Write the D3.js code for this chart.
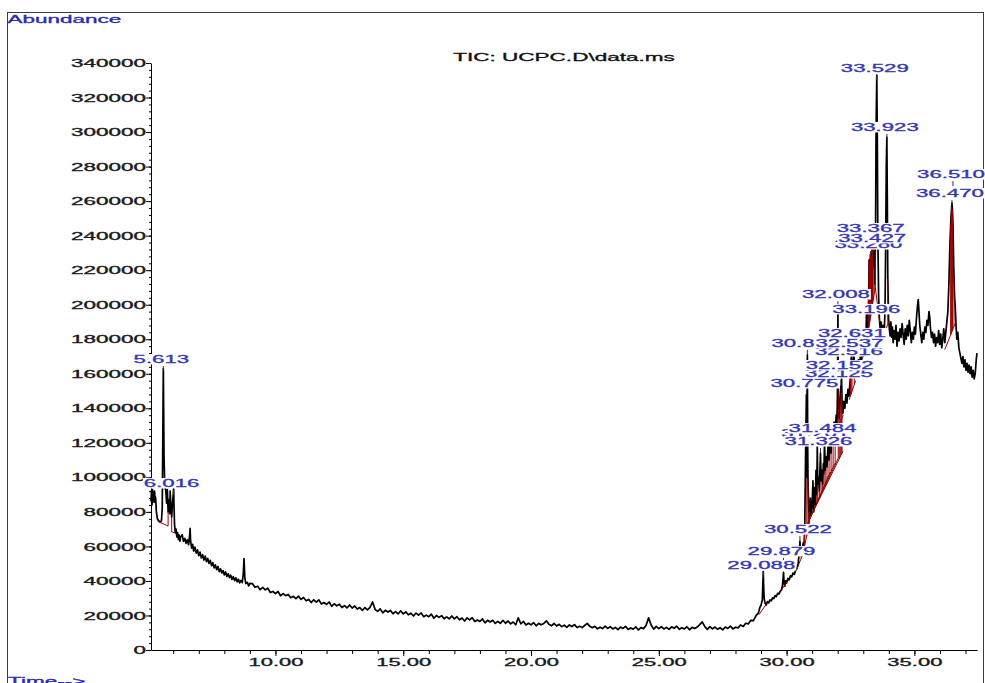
<!DOCTYPE html>
<html>
<head>
<meta charset="utf-8">
<script src="https://cdn.jsdelivr.net/npm/d3@7"></script>
<style>
html, body { margin: 0; padding: 0; background: #fff; }
svg { display: block; }
</style>
</head>
<body>
<svg id="chart" width="985" height="683"></svg>
<script>
// Total ion chromatogram: [retention time (min), abundance]
const tic = [
  [5.13,86000],[5.15,92500],[5.17,84000],[5.19,93000],[5.21,87000],[5.23,91500],[5.25,85500],[5.27,92000],[5.29,86000],[5.31,88500],
  [5.34,80000],[5.38,76000],[5.42,75000],[5.46,74500],[5.50,74000],[5.54,75000],[5.57,82000],[5.59,118000],[5.605,150000],[5.613,163000],
  [5.625,140000],[5.64,112000],[5.66,100000],[5.68,94000],[5.71,92000],[5.74,85000],[5.77,93000],[5.80,80000],[5.83,87000],[5.86,79000],
  [5.88,92000],[5.91,82000],[5.94,77000],[5.97,85000],[6.00,90000],[6.016,93500],[6.03,84000],[6.05,73000],[6.08,68000],[6.11,70000],
  [6.14,65500],[6.17,68000],[6.20,64000],[6.23,66500],[6.26,63000],[6.29,65500],
  [6.35,66800],[6.40,62900],[6.45,64700],[6.50,61800],[6.55,63900],[6.60,61000],[6.64,66000],[6.66,70500],[6.68,63000],[6.72,59000],
  [6.76,61200],[6.80,57300],[6.85,59600],[6.90,56100],[6.95,58000],[7.00,54600],[7.05,56700],[7.10,53300],[7.15,55200],[7.20,52100],
  [7.25,54400],[7.30,51200],[7.35,53000],[7.40,50100],[7.45,51900],[7.50,48800],[7.55,50600],[7.60,47600],[7.65,49300],[7.70,46500],
  [7.75,48400],[7.80,45400],[7.85,47000],[7.90,44600],[7.95,46000],[8.00,43500],[8.05,45200],[8.10,42600],[8.15,44100],[8.20,41900],
  [8.25,43300],[8.30,40900],[8.35,42500],[8.40,40200],[8.45,41800],[8.50,39500],[8.55,41000],[8.60,38900],[8.65,40300],[8.70,39000],
  [8.74,44000],[8.77,53000],[8.80,42000],[8.84,38500],[8.90,39200],[8.95,37100],[9.00,38600],
  [9.1,38400],[9.2,36300],[9.3,36900],[9.4,34900],[9.5,36300],[9.6,34800],[9.7,35800],[9.8,33300],[9.9,33900],[10.0,32700],
  [10.1,33900],[10.2,31400],[10.3,32700],[10.4,31500],[10.5,32200],[10.6,30200],[10.7,31100],[10.8,29700],[10.9,31200],[11.0,29300],
  [11.1,30400],[11.2,28500],[11.3,29300],[11.4,27500],[11.5,29100],[11.6,27700],[11.7,29000],[11.8,26600],[11.9,27500],[12.0,26400],
  [12.1,27800],[12.2,25300],[12.3,26800],[12.4,25600],[12.5,26500],[12.6,24600],[12.7,25700],[12.8,24400],[12.9,26100],[13.0,24300],
  [13.1,25500],[13.2,23700],[13.3,24600],[13.4,22900],[13.5,24600],[13.6,23300],[13.7,24700],[13.8,27800],[13.9,23400],[14.0,22400],
  [14.1,23800],[14.2,21500],[14.3,23000],[14.4,22000],[14.5,22900],[14.6,21000],[14.7,22200],[14.8,20900],[14.9,22700],[15.0,20900],
  [15.1,22100],[15.2,20400],[15.3,21300],[15.4,19700],[15.5,21400],[15.6,20200],[15.7,21500],[15.8,19300],[15.9,20200],[16.0,19300],
  [16.1,20800],[16.2,18400],[16.3,20000],[16.4,18900],[16.5,19900],[16.6,18100],[16.7,19200],[16.8,18000],[16.9,19700],[17.0,18000],
  [17.1,19300],[17.2,17500],[17.3,18500],[17.4,16800],[17.5,18600],[17.6,17400],[17.7,18700],[17.8,16500],[17.9,17400],[18.0,16500],
  [18.1,18000],[18.2,15700],[18.3,17200],[18.4,16200],[18.5,17200],[18.6,15400],[18.7,16600],[18.8,15400],[18.9,17200],[19.0,15500],
  [19.1,16800],[19.2,15100],[19.3,16200],[19.4,14600],[19.5,18600],[19.6,15200],[19.7,16600],[19.8,14500],[19.9,15500],[20.0,14600],
  [20.1,15900],[20.2,14000],[20.3,15400],[20.4,14600],[20.5,15400],[20.6,16900],[20.7,14900],[20.8,14000],[20.9,15400],[21.0,13900],
  [21.1,14900],[21.2,13500],[21.3,14400],[21.4,13100],[21.5,14500],[21.6,13600],[21.7,14700],[21.8,13000],[21.9,13800],[22.0,13000],
  [22.1,14200],[22.2,15400],[22.3,13700],[22.4,12900],[22.5,13700],[22.6,12300],[22.7,13200],[22.8,12400],[22.9,13800],[23.0,12500],
  [23.1,13500],[23.2,12200],[23.3,13100],[23.4,11800],[23.5,13300],[23.6,12500],[23.7,13700],[23.8,11900],[23.9,12800],[24.0,12100],
  [24.1,13400],[24.2,11600],[24.3,13000],[24.4,12400],[24.5,14200],[24.6,18600],[24.7,14500],[24.8,12100],[24.9,13700],[25.0,12400],
  [25.1,13500],[25.2,12200],[25.3,13100],[25.4,11900],[25.5,13400],[25.6,12600],[25.7,13800],[25.8,12000],[25.9,12900],[26.0,12200],
  [26.1,13500],[26.2,11700],[26.3,13100],[26.4,12400],[26.5,13300],[26.6,14700],[26.7,16300],[26.8,13500],[26.9,12000],[27.0,13500],
  [27.1,12200],[27.2,13300],[27.3,12000],[27.4,12900],[27.5,11700],[27.6,13300],[27.7,12500],[27.8,13800],[27.9,12200],[28.0,13200],
  [28.1,12800],[28.2,14500],[28.3,13600],[28.4,15500],[28.5,15100],[28.6,17200],[28.7,17000],[28.8,19800],[28.9,21500],
  [28.95,24500],[29.00,26000],[29.05,29000],[29.07,38000],[29.088,45500],[29.10,38000],[29.12,30000],[29.16,27000],[29.20,26000],[29.25,28000],
  [29.30,27300],[29.35,29000],[29.40,28500],[29.45,30200],[29.50,29800],[29.55,31500],[29.60,31000],[29.65,32800],[29.70,32400],[29.75,34000],
  [29.80,34800],[29.84,37500],[29.86,41000],[29.879,45000],[29.90,39000],[29.93,37000],[29.96,40000],[30.00,38800],[30.05,41500],[30.10,40600],
  [30.15,43000],[30.20,42400],[30.25,44600],[30.30,43800],[30.35,46000],[30.40,47000],
  [30.45,50000],[30.48,54000],[30.50,58000],[30.522,63000],[30.54,56000],[30.58,54000],[30.62,58000],[30.65,62000],[30.68,60000],[30.71,70000],
  [30.74,110000],[30.775,148000],[30.79,100000],[30.80,130000],[30.812,171000],[30.825,120000],[30.84,95000],[30.87,80000],[30.90,76000],[30.93,88000],
  [30.96,78000],[31.00,84000],[31.03,98000],[31.06,80000],[31.09,94000],[31.12,84000],[31.15,104000],[31.18,90000],[31.201,118000],[31.22,96000],
  [31.25,100000],[31.28,92000],[31.30,102000],[31.326,114000],[31.35,98000],[31.38,104000],[31.41,96000],[31.44,108000],[31.46,102000],[31.484,121000],
  [31.51,104000],[31.55,112000],[31.58,106000],[31.62,118000],[31.66,110000],[31.70,122000],[31.74,114000],[31.78,128000],[31.82,120000],[31.86,132000],
  [31.90,125000],[31.94,136000],[31.97,130000],[31.99,150000],[32.008,199000],[32.02,152000],[32.05,134000],[32.08,140000],[32.10,146000],[32.125,153000],
  [32.14,149000],[32.152,158000],[32.17,142000],[32.20,137000],[32.24,144000],[32.28,140000],[32.32,148000],[32.36,143000],[32.40,151000],[32.44,147000],
  [32.48,155000],[32.50,159000],[32.516,166000],[32.525,160000],[32.537,171000],[32.56,158000],[32.59,161000],[32.61,166000],[32.631,176000],[32.65,162000],
  [32.69,158000],[32.73,165000],[32.77,160000],[32.81,168000],[32.85,163000],[32.89,171000],[32.93,166000],[32.97,175000],[33.01,170000],[33.05,178000],
  [33.08,174000],[33.10,178000],[33.13,198000],[33.16,184000],[33.196,190000],[33.21,205000],[33.23,226000],[33.25,218000],[33.27,224000],[33.280,229000],
  [33.30,222000],[33.32,226000],[33.34,230000],[33.367,237000],[33.39,226000],[33.41,222000],[33.427,231000],[33.45,212000],[33.48,240000],[33.50,300000],
  [33.529,333000],[33.55,295000],[33.57,240000],[33.60,205000],[33.63,192000],[33.66,186000],[33.70,190000],[33.74,183000],[33.78,188000],[33.82,184000],
  [33.85,196000],[33.88,240000],[33.90,280000],[33.923,297000],[33.94,262000],[33.96,215000],[33.99,192000],
  [34.02,186000],[34.05,182000],[34.08,190000],[34.11,181000],[34.14,187000],[34.17,178000],[34.20,185000],[34.24,180000],[34.28,188000],[34.32,176000],
  [34.36,184000],[34.40,179000],[34.44,186000],[34.48,181000],[34.52,189000],[34.56,183000],[34.60,177000],[34.64,186000],[34.68,180000],[34.72,188000],
  [34.76,182000],[34.80,191000],[34.84,185000],[34.88,178000],[34.92,184000],[34.96,180000],[35.00,187000],[35.04,183000],[35.08,192000],[35.12,199000],
  [35.15,203000],[35.18,196000],[35.21,188000],[35.25,183000],[35.29,178000],[35.33,184000],[35.37,180000],[35.41,187000],[35.45,184000],[35.49,191000],
  [35.53,188000],[35.57,196000],[35.60,193000],[35.63,186000],[35.67,181000],[35.71,184000],[35.75,178000],[35.79,183000],[35.83,176000],[35.87,181000],
  [35.91,178000],[35.95,185000],[35.99,177000],[36.03,183000],[36.07,175000],[36.11,180000],[36.15,186000],[36.19,178000],[36.23,184000],[36.27,190000],
  [36.31,196000],[36.35,212000],[36.39,235000],[36.43,250000],[36.47,259000],[36.49,255000],[36.51,246000],[36.54,222000],[36.57,205000],[36.60,198000],
  [36.63,188000],[36.66,180000],[36.70,184000],[36.74,175000],[36.78,172000],[36.82,169000],[36.86,166000],[36.90,170000],[36.94,164000],[36.98,168000],
  [37.02,162000],[37.06,166000],[37.10,161000],[37.14,165000],[37.18,160000],[37.22,164000],[37.26,158000],[37.30,162000],[37.34,157000],[37.38,160000],
  [37.42,168000],[37.45,172000]
];

// Integrated peaks: retention time label and the abundance where its marker sits
const peakRT = ["5.613","6.016","29.088","29.879","30.522","30.775","30.812","31.201","31.326","31.484",
                "32.008","32.125","32.152","32.516","32.537","32.631","33.196","33.280","33.367","33.427",
                "33.529","33.923","36.470","36.510"];
const peakMark = [161600, 89800, 42300, 50400, 63100, 147700, 170900, 118700, 114100, 121600,
                  199200, 153500, 158100, 166200, 170900, 176700, 190600, 228200, 237500, 231700,
                  330100, 296000, 257700, 268700];

// Integration baselines: [start (min), start abundance, end (min), end abundance]
const baselines = [
  [5.40,74500,5.80,71800],[5.94,68500,6.11,67500],[28.92,20500,29.25,27500],[29.76,34000,30.02,39500],
  [30.42,47500,30.58,53500],[30.58,53500,30.70,60000],[30.70,60000,30.90,74000],
  [30.82,73000,31.70,103000],[30.84,74000,31.88,108000],[30.87,75000,32.05,112000],[30.90,76000,32.20,115000],
  [31.95,126000,32.06,131000],[32.06,131000,32.22,136000],[32.45,145000,32.70,156000],
  [33.10,176000,33.47,210000],[33.47,210000,33.64,190000],[33.83,184000,34.00,190000],[36.19,174000,36.62,190000]
];

// Drop lines between the baseline and the signal (min)
const dropTimes = [5.80,5.94,29.25,30.02,30.58,30.70,30.79,30.84,30.87,30.90,31.06,31.12,31.18,31.22,31.28,31.35,
  31.41,31.46,31.51,31.58,31.66,31.74,31.82,31.90,32.02,32.06,32.10,32.14,32.17,32.50,32.525,32.56,32.65,
  33.16,33.20,33.21,33.22,33.23,33.24,33.25,33.26,33.27,33.28,33.29,33.30,33.31,33.32,33.33,33.34,33.35,33.36,
  33.39,33.45,33.47,33.64,33.96,36.42,36.44,36.46,36.49,36.55,36.62];

const yTicks = [0,20000,40000,60000,80000,100000,120000,140000,160000,180000,200000,220000,240000,260000,280000,300000,320000,340000];
const xTicks = [10,15,20,25,30,35];
const titleText = "TIC: UCPC.D\\data.ms";

const FONT = "'Liberation Sans', Arial, sans-serif";
const svg = d3.select("#chart");

const x = d3.scaleLinear().domain([5.13, 37.45]).range([151, 977]);
const y = d3.scaleLinear().domain([0, 340000]).range([650, 63]);

// frame
svg.append("rect").attr("x", 7.5).attr("y", 12.5).attr("width", 976).attr("height", 700)
  .attr("fill", "none").attr("stroke", "#3a3a3a").attr("stroke-width", 1);

// y axis: minor then major
const minorY = d3.range(0, 340001, 4000);
const gyMinor = svg.append("g").attr("transform", "translate(151,0)")
  .call(d3.axisLeft(y).tickValues(minorY).tickSize(2).tickSizeOuter(0).tickFormat(""));
gyMinor.select(".domain").remove();

const gy = svg.append("g").attr("transform", "translate(151,0)")
  .call(d3.axisLeft(y).tickValues(yTicks).tickSize(5).tickSizeOuter(0).tickFormat(d3.format("d")));
gy.selectAll("text")
  .attr("x", 0).attr("dy", null).attr("y", 3.6)
  .attr("transform", "translate(-5,0) scale(2.25,1)")
  .style("font-family", FONT).style("font-size", "10px")
  .attr("fill", "#1a1a1a").attr("stroke", "#1a1a1a").attr("stroke-width", 0.3);

// x axis: minor then major
const minorX = d3.range(6, 38, 1);
const gxMinor = svg.append("g").attr("transform", "translate(0,650)")
  .call(d3.axisBottom(x).tickValues(minorX).tickSize(4).tickSizeOuter(0).tickFormat(""));
gxMinor.select(".domain").remove();

const gx = svg.append("g").attr("transform", "translate(0,650)")
  .call(d3.axisBottom(x).tickValues(xTicks).tickSize(6).tickSizeOuter(0).tickFormat(d => d.toFixed(2)));
gx.selectAll("text")
  .attr("dy", null).attr("y", 16.5)
  .attr("transform", "scale(2.2,1)")
  .style("font-family", FONT).style("font-size", "10px")
  .attr("fill", "#1a1a1a").attr("stroke", "#1a1a1a").attr("stroke-width", 0.3);

svg.selectAll(".domain, .tick line").attr("stroke", "#000");

// axis captions and title
function stretchedText(sel, tx, ty, sx, txt, size, color, anchor) {
  return sel.append("text")
    .attr("transform", `translate(${tx},${ty}) scale(${sx},1)`)
    .attr("text-anchor", anchor)
    .style("font-family", FONT).style("font-size", size + "px")
    .attr("fill", color).attr("stroke", color).attr("stroke-width", 0.3)
    .text(txt);
}
stretchedText(svg, 7.5, 23.3, 2.25, "Abundance", 10, "#2b2bb0", "start");
stretchedText(svg, 8, 684.5, 2.25, "Time-->", 10, "#2b2bb0", "start");
stretchedText(svg, 564, 60.7, 2.05, titleText, 11, "#111", "middle");

// helpers for the integration marks
const bis = d3.bisector(d => d[0]).left;
function signalAt(t) {
  const i = bis(tic, t);
  if (i <= 0) return tic[0][1];
  if (i >= tic.length) return tic[tic.length - 1][1];
  const a = tic[i - 1], b = tic[i];
  const f = (t - a[0]) / (b[0] - a[0]);
  return a[1] + f * (b[1] - a[1]);
}
function baselineAt(t) {
  const seg = baselines.find(s => t >= s[0] - 1e-9 && t <= s[2] + 1e-9);
  if (!seg) return null;
  const f = (t - seg[0]) / (seg[2] - seg[0]);
  return seg[1] + f * (seg[3] - seg[1]);
}

// signal trace
svg.append("path")
  .datum(tic)
  .attr("d", d3.line().x(d => x(d[0])).y(d => y(d[1])))
  .attr("fill", "none").attr("stroke", "#000").attr("stroke-width", 1.7)
  .attr("stroke-linejoin", "round");

// integration baselines and drop lines
const RED = "#9a0000";
svg.append("g").selectAll("line").data(baselines).join("line")
  .attr("x1", d => x(d[0])).attr("y1", d => y(d[1]))
  .attr("x2", d => x(d[2])).attr("y2", d => y(d[3]))
  .attr("stroke", RED).attr("stroke-width", 1);

svg.append("g").selectAll("line")
  .data(dropTimes.filter(t => baselineAt(t) !== null))
  .join("line")
  .attr("x1", d => x(d)).attr("x2", d => x(d))
  .attr("y1", d => y(baselineAt(d))).attr("y2", d => y(signalAt(d)))
  .attr("stroke", RED).attr("stroke-width", 1);

// peak markers and retention-time labels
const tickLayer = svg.append("g");
const labelLayer = svg.append("g");
peakRT.forEach((rt, i) => {
  const px = x(+rt), ya = y(peakMark[i]);
  tickLayer.append("line")
    .attr("x1", px).attr("x2", px).attr("y1", ya - 5).attr("y2", ya)
    .attr("stroke", "#333").attr("stroke-width", 1);
  const g = labelLayer.append("g")
    .attr("transform", `translate(${px - 2},${ya - 8}) scale(2.02,1)`);
  const r = g.append("rect").attr("fill", "#fff");
  const t = g.append("text").attr("text-anchor", "middle")
    .style("font-family", FONT).style("font-size", "11px")
    .attr("fill", "#3535b5").attr("stroke", "#3535b5").attr("stroke-width", 0.3)
    .text(rt);
  const bb = t.node().getBBox();
  r.attr("x", bb.x - 0.5).attr("y", -9).attr("width", bb.width + 1).attr("height", 10.5);
});
</script>
</body>
</html>
